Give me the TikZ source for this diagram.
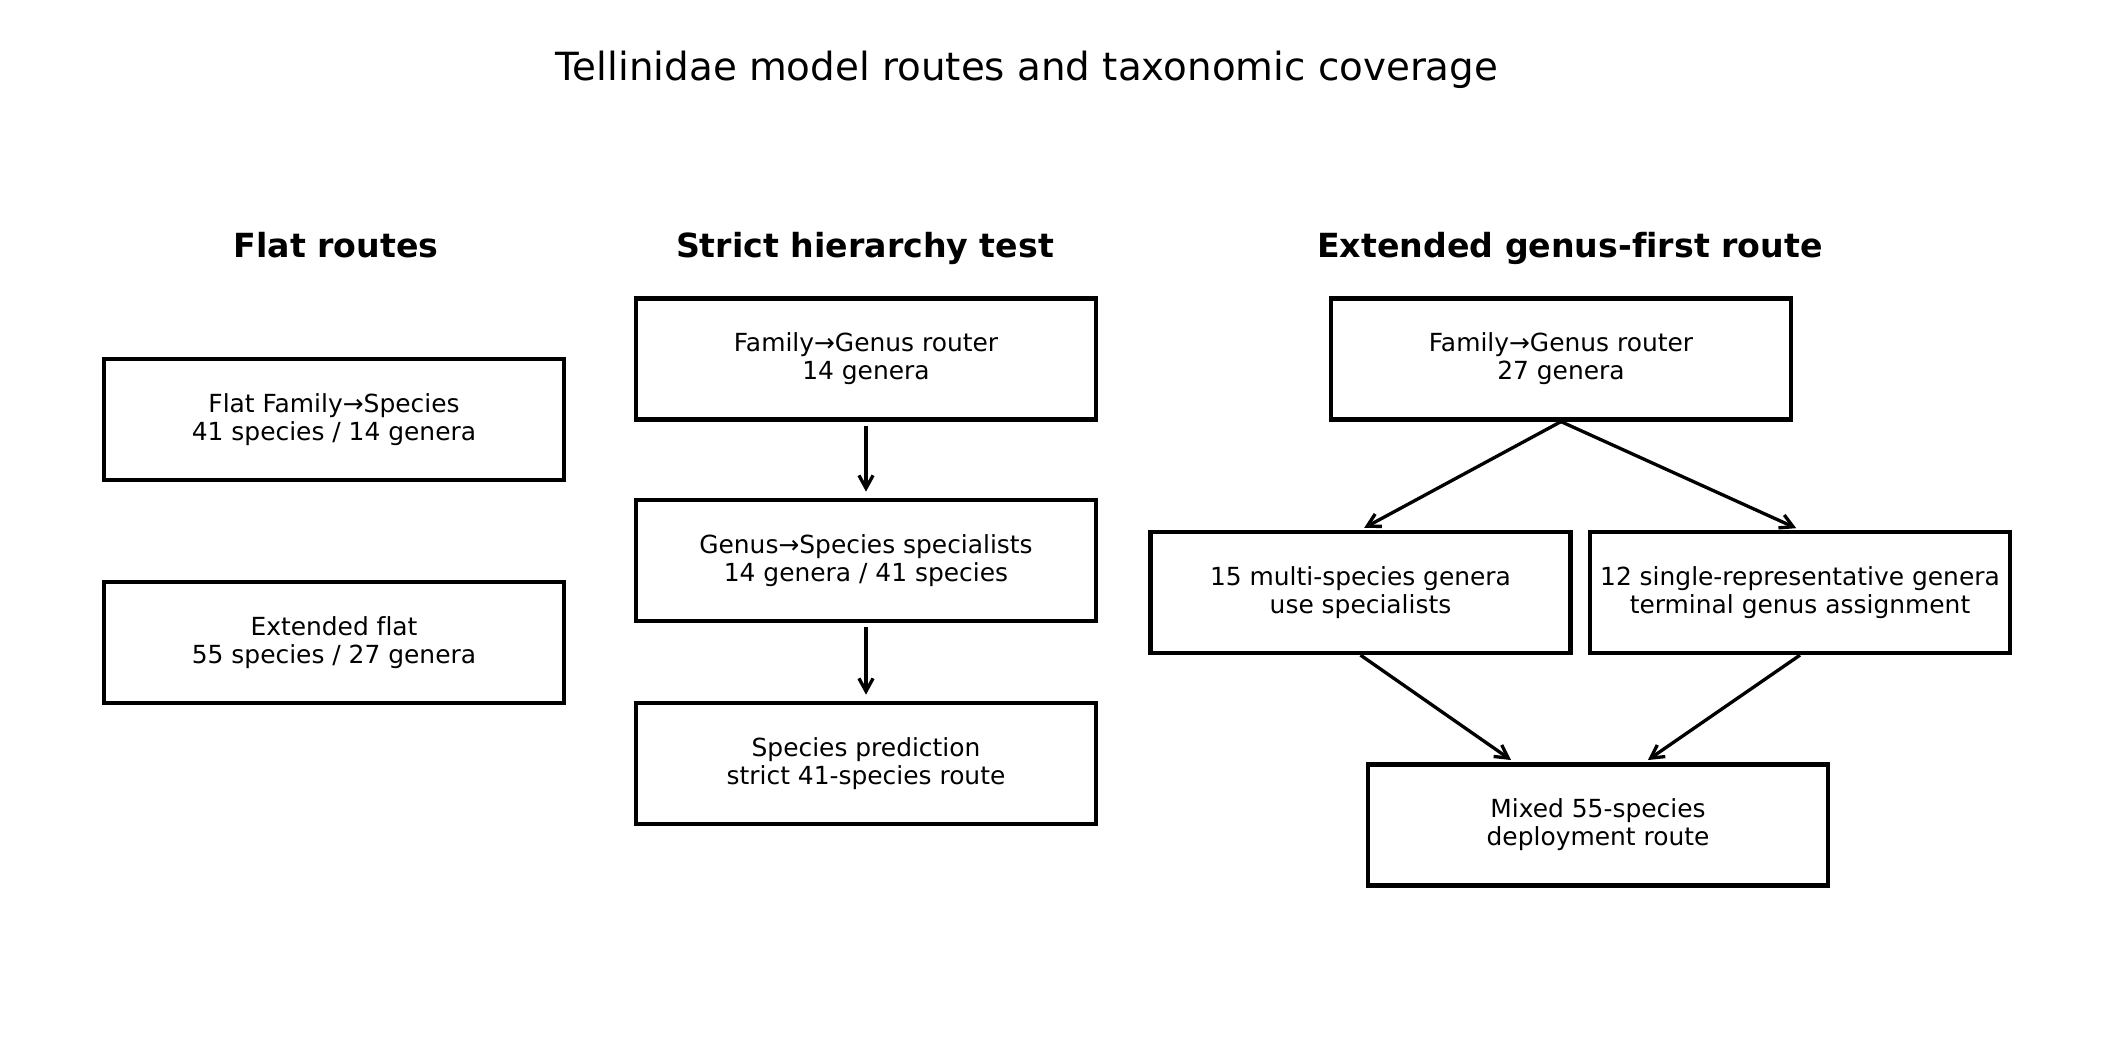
\documentclass[tikz,border=0pt]{standalone}
\usepackage{fontspec}
\setmainfont{DejaVu Sans}[Ligatures=NoCommon]
\usetikzlibrary{arrows.meta, calc}

\begin{document}
\begin{tikzpicture}[x=0.16933mm, y=-0.16933mm,
  box/.style={draw, line width=2pt, minimum width=77.9mm, minimum height=20.5mm, inner sep=0pt, align=center, font=\fontsize{12}{13.4}\selectfont},
  narrowbox/.style={box, minimum width=71.1mm},
  header/.style={anchor=base, font=\fontsize{16}{19}\selectfont\bfseries},
  flow/.style={-{Straight Barb[length=6.2pt, width=6.8pt]}, line width=1.6pt, shorten >=2pt}]

\useasboundingbox (0, 0) rectangle (2115, 1057);

\node[anchor=base, font=\fontsize{18.7}{22}\selectfont] (title) at (1027, 80) {Tellinidae model routes and taxonomic coverage};

\node[header] (hflat) at (336, 257) {Flat routes};
\node[header] (hstrict) at (865, 257) {Strict hierarchy test};
\node[header] (hext) at (1570, 257) {Extended genus-first route};

\node[box] (flatfs) at (334, 419.5) {Flat Family→Species\\41 species / 14 genera};
\node[box] (flatext) at (334, 642.5) {Extended flat\\55 species / 27 genera};

\node[box] (strictfg) at (866, 359) {Family→Genus router\\14 genera};
\node[box] (strictgs) at (866, 560.5) {Genus→Species specialists\\14 genera / 41 species};
\node[box] (strictsp) at (866, 763.5) {Species prediction\\strict 41-species route};

\node[box] (extfg) at (1561, 359) {Family→Genus router\\27 genera};
\node[narrowbox] (extmulti) at (1360.5, 592.5) {15 multi-species genera\\use specialists};
\node[narrowbox] (extsingle) at (1800, 592.5) {12 single-representative genera\\terminal genus assignment};
\node[box] (extmixed) at (1598, 825) {Mixed 55-species\\deployment route};

\coordinate (mixinl) at ($(extmixed.north west)!0.32!(extmixed.north east)$);
\coordinate (mixinr) at ($(extmixed.north west)!0.6!(extmixed.north east)$);

\draw[flow, shorten <=2pt, shorten >=3pt] (strictfg) -- (strictgs);
\draw[flow, shorten <=2pt, shorten >=3pt] (strictgs) -- (strictsp);

\draw[flow] (extfg.south) -- (extmulti.north);
\draw[flow] (extfg.south) -- (extsingle.north);
\draw[flow] (extmulti.south) -- (mixinl);
\draw[flow] (extsingle.south) -- (mixinr);

\end{tikzpicture}
\end{document}
